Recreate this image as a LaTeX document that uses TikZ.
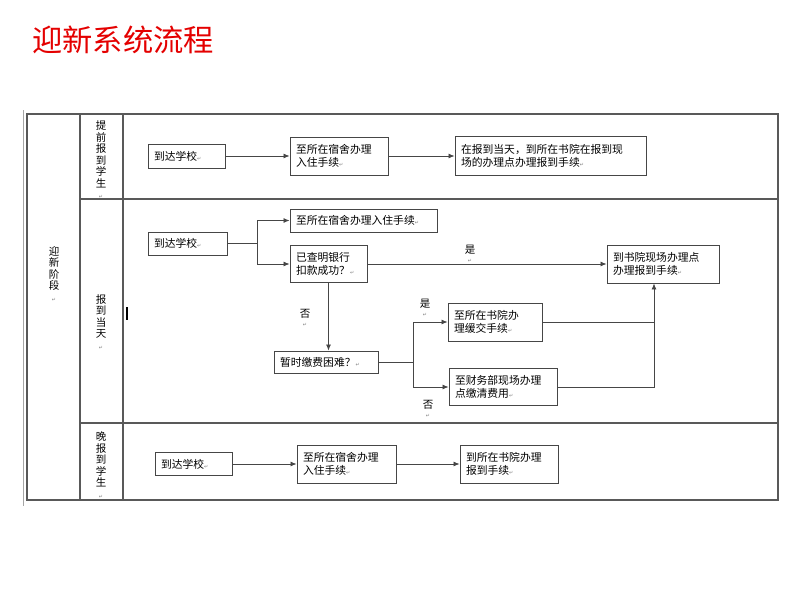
\documentclass[tikz,border=0pt]{standalone}
\usepackage{fontspec}
\setmainfont{Noto Sans CJK SC}
\newfontfamily\djv{DejaVu Sans}
\usetikzlibrary{arrows.meta}
\definecolor{titlered}{RGB}{228,0,0}
\definecolor{linegray}{RGB}{70,70,70}
\newcommand\rmk{{\djv\fontsize{5}{5}\selectfont\color{gray}↵}}
\newcommand\boxfont{\fontsize{10.8}{13.5}\selectfont}
\begin{document}
\begin{tikzpicture}[x=1pt,y=-1pt,
  box/.style={draw=linegray, line width=0.9pt, inner xsep=6pt, inner ysep=2pt, align=left, font=\boxfont, anchor=center},
  arr/.style={draw=linegray, line width=0.8pt, -{Latex[length=6pt,width=5pt]}},
  ln/.style={draw=linegray, line width=0.8pt},
  frame/.style={draw=black!65, line width=1.1pt},
  vtext/.style={align=center, font=\fontsize{10.5}{11.5}\selectfont, inner sep=0pt},
  lbl/.style={align=center, font=\fontsize{10.5}{9}\selectfont, inner sep=0pt}]
\useasboundingbox (0,0) rectangle (800,600);
% title
\node[anchor=west, text=titlered, font=\fontsize{30.3}{32}\selectfont, inner sep=0pt] (title) at (32,40) {迎新系统流程};
% table frame
\draw[draw=black!35, line width=0.6pt] (23,110) -- (23,506);
\draw[frame] (27,114) rectangle (778,500);
\draw[frame] (80,114) -- (80,500);
\draw[frame] (123,114) -- (123,500);
\draw[frame] (80,199) -- (778,199);
\draw[frame] (80,423) -- (778,423);
\draw[black, line width=1.4pt] (127,307) -- (127,320);
% row labels
\node[vtext] (l0) at (54,274) {迎\\新\\阶\\段\\\rmk};
\node[vtext] (l1) at (101,160) {提\\前\\报\\到\\学\\生\\\rmk};
\node[vtext] (l2) at (101,322) {报\\到\\当\\天\\\rmk};
\node[vtext] (l3) at (101,465) {晚\\报\\到\\学\\生\\\rmk};
% row 1
\node[box, minimum width=77pt, minimum height=24pt, text width=65pt] (a1) at (186.5,156) {到达学校\rmk};
\node[box, minimum width=98pt, minimum height=38pt, text width=86pt] (a2) at (339,156) {至所在宿舍办理\\入住手续\rmk};
\node[box, minimum width=191pt, minimum height=39pt, text width=179pt] (a3) at (550.5,156) {在报到当天，到所在书院在报到现\\场的办理点办理报到手续\rmk};
\draw[arr] (a1.east) -- (a2.west);
\draw[arr] (a2.east) -- (a3.west);
% row 2
\node[box, minimum width=79pt, minimum height=23pt, text width=67pt] (b1) at (187.5,243.5) {到达学校\rmk};
\node[box, minimum width=147pt, minimum height=23pt, text width=135pt] (b2) at (363.5,220.5) {至所在宿舍办理入住手续\rmk};
\node[box, minimum width=77pt, minimum height=37pt, text width=65pt] (b3) at (328.5,264) {已查明银行\\扣款成功？\rmk};
\node[box, minimum width=112pt, minimum height=38pt, text width=100pt] (b4) at (663,264) {到书院现场办理点\\办理报到手续\rmk};
\node[box, minimum width=104pt, minimum height=22pt, text width=92pt] (b5) at (326,362) {暂时缴费困难？\rmk};
\node[box, minimum width=94pt, minimum height=38pt, text width=82pt] (b6) at (495,322) {至所在书院办\\理缓交手续\rmk};
\node[box, minimum width=108pt, minimum height=37pt, text width=96pt] (b7) at (503,387) {至财务部现场办理\\点缴清费用\rmk};
\coordinate (j1) at (257,243.5);
\coordinate (j2) at (413,362);
\coordinate (j3) at (654,387);
\draw[ln] (b1.east) -- (j1);
\draw[arr] (j1) |- (b2.west);
\draw[arr] (j1) |- (b3.west);
\draw[arr] (b3.east) -- (b4.west);
\draw[arr] (b3.south) -- (b3.south |- b5.north);
\draw[ln] (b5.east) -- (j2);
\draw[arr] (j2) |- (b6.west);
\draw[arr] (j2) |- (b7.west);
\draw[ln] (b6.east) -- (b6.east -| j3);
\draw[arr] (b7.east) -- (j3) -- (j3 |- b4.south);
\node[lbl] (y1) at (470,254) {是\\\rmk};
\node[lbl] (n1) at (305,318) {否\\\rmk};
\node[lbl] (y2) at (425,308) {是\\\rmk};
\node[lbl] (n2) at (428,409) {否\\\rmk};
% row 3
\node[box, minimum width=77pt, minimum height=23pt, text width=65pt] (c1) at (193.5,464) {到达学校\rmk};
\node[box, minimum width=99pt, minimum height=38pt, text width=87pt] (c2) at (346.5,464) {至所在宿舍办理\\入住手续\rmk};
\node[box, minimum width=98pt, minimum height=38pt, text width=86pt] (c3) at (509,464) {到所在书院办理\\报到手续\rmk};
\draw[arr] (c1.east) -- (c2.west);
\draw[arr] (c2.east) -- (c3.west);
\end{tikzpicture}
\end{document}
